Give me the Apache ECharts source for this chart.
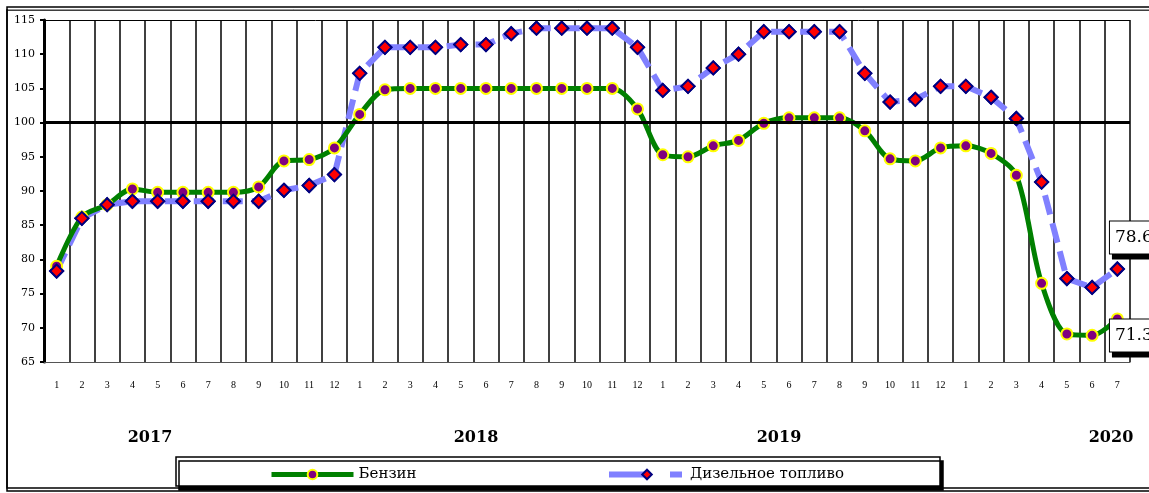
<!DOCTYPE html>
<html>
<head>
<meta charset="utf-8">
<script src="https://cdn.jsdelivr.net/npm/echarts@6/dist/echarts.min.js"></script>
<style>
html,body{margin:0;padding:0;background:#fff;}
#chart{width:1149px;height:493px;}
</style>
</head>
<body>
<div id="chart"></div>
<script>
const months = ['1','2','3','4','5','6','7','8','9','10','11','12',
  '1','2','3','4','5','6','7','8','9','10','11','12',
  '1','2','3','4','5','6','7','8','9','10','11','12',
  '1','2','3','4','5','6','7'];
const years = ['2017','2018','2019','2020'];
const seriesNames = ['Бензин', 'Дизельное топливо'];
const benzin = [79.0, 86.2, 88.0, 90.3, 89.8, 89.8, 89.8, 89.8, 90.6, 94.4, 94.6, 96.3,
  101.2, 104.8, 105.0, 105.0, 105.0, 105.0, 105.0, 105.0, 105.0, 105.0, 105.0, 102.0,
  95.3, 95.0, 96.6, 97.4, 99.9, 100.7, 100.7, 100.7, 98.8, 94.7, 94.4, 96.3,
  96.6, 95.5, 92.3, 76.5, 69.1, 68.9, 71.3];
const diesel = [78.3, 86.0, 88.0, 88.5, 88.5, 88.5, 88.5, 88.5, 88.5, 90.1, 90.8, 92.4,
  107.2, 111.0, 111.0, 111.0, 111.4, 111.4, 113.0, 113.8, 113.8, 113.8, 113.8, 111.0,
  104.7, 105.3, 108.0, 110.0, 113.3, 113.3, 113.3, 113.3, 107.2, 103.0, 103.4, 105.3,
  105.3, 103.7, 100.6, 91.3, 77.2, 75.9, 78.6];
const yMin = 65, yMax = 115, yStep = 5;
const refLevel = 100;

const serif = 'DejaVu Serif';
const last = benzin.length - 1;

const boxLabel = {
  show: true,
  formatter: p => p.value.toFixed(1),
  fontFamily: serif,
  fontSize: 17,
  color: '#000',
  backgroundColor: '#fff',
  borderColor: '#000',
  borderWidth: 1,
  padding: [8, 6, 7, 5],
  shadowColor: '#000',
  shadowBlur: 0,
  shadowOffsetX: 3,
  shadowOffsetY: 5
};

const chart = echarts.init(document.getElementById('chart'), null, {renderer: 'canvas'});
const yearX = [150, 476, 779, 1111];

chart.setOption({
  animation: false,
  backgroundColor: '#fff',
  grid: {left: 44, right: 19, top: 20, bottom: 131, containLabel: false},
  xAxis: {
    type: 'category',
    data: months,
    boundaryGap: true,
    axisLine: {show: true, lineStyle: {color: '#555', width: 1.2}},
    axisTick: {show: false},
    axisLabel: {interval: 0, margin: 18, fontFamily: 'Liberation Serif', fontSize: 10, color: '#000'},
    splitLine: {show: true, interval: 0, lineStyle: {color: '#000', width: 1.5}}
  },
  yAxis: {
    type: 'value',
    min: yMin, max: yMax, interval: yStep,
    axisLine: {show: true, lineStyle: {color: '#000', width: 3}},
    axisTick: {show: true, length: 4, lineStyle: {color: '#000', width: 2}},
    axisLabel: {margin: 9, fontFamily: serif, fontSize: 11, color: '#000'},
    splitLine: {show: false}
  },
  legend: [
    {
      data: [seriesNames[0]], left: 264, top: 462, itemWidth: 82, itemHeight: 12, itemGap: 0,
      lineStyle: {width: 5},
      textStyle: {fontFamily: serif, fontSize: 15, color: '#000'}, z: 10
    },
    {
      data: [seriesNames[1]], left: 601, top: 462, itemWidth: 76, itemHeight: 12, itemGap: 0,
      lineStyle: {type: [37, 24, 12, 200], width: 6},
      textStyle: {fontFamily: serif, fontSize: 15, color: '#000'}, z: 10
    }
  ],
  graphic: [
    {type: 'rect', z: -10, silent: true, shape: {x: 7, y: 7, width: 1220, height: 481},
      style: {fill: 'none', stroke: '#000', lineWidth: 1.5, shadowColor: '#000', shadowOffsetX: 0, shadowOffsetY: 3}},
    {type: 'line', z: -10, silent: true, shape: {x1: 8, y1: 9.5, x2: 1149, y2: 9.5}, style: {stroke: '#999', lineWidth: 1}},
    {type: 'rect', z: 1, silent: true, shape: {x: 176, y: 457, width: 764, height: 29},
      style: {fill: '#fff', stroke: '#000', lineWidth: 1.5, shadowColor: '#000', shadowOffsetX: 3, shadowOffsetY: 4}},
    ...years.map((y, i) => ({
      type: 'text', z: 5, silent: true, x: yearX[i], y: 438,
      style: {text: y, fontFamily: serif, fontWeight: 'bold', fontSize: 16, fill: '#000', align: 'center', verticalAlign: 'middle'}
    }))
  ],
  series: [
    {
      name: seriesNames[1],
      type: 'line',
      data: diesel,
      z: 2,
      symbol: 'diamond',
      symbolSize: 13,
      showSymbol: true,
      lineStyle: {color: '#8080ff', width: 6, type: [20, 9], cap: 'butt'},
      itemStyle: {color: '#ff0000', borderColor: '#000080', borderWidth: 2},
      emphasis: {disabled: true}
    },
    {
      name: seriesNames[0],
      type: 'line',
      data: benzin.map((v, i) => i === last ? {value: v, label: Object.assign({}, boxLabel, {position: 'bottom', distance: 0, offset: [17, -6]})} : v),
      z: 3,
      smooth: 0.3,
      symbol: 'circle',
      symbolSize: 11,
      lineStyle: {color: '#008000', width: 5},
      itemStyle: {color: '#800080', borderColor: '#ffff00', borderWidth: 2},
      emphasis: {disabled: true},
      markLine: {
        silent: true, symbol: 'none', animation: false,
        label: {show: false},
        data: [
          {yAxis: refLevel, lineStyle: {color: '#000', width: 3, type: 'solid'}},
          {yAxis: yMax, lineStyle: {color: '#000', width: 1, type: 'solid'}}
        ]
      }
    },
    {
      name: 'diesel-markers',
      type: 'line',
      data: diesel.map((v, i) => i === last ? {value: v, label: Object.assign({}, boxLabel, {position: 'top', distance: 8, offset: [17, 0]})} : v),
      z: 4,
      symbol: 'diamond',
      symbolSize: 13,
      lineStyle: {opacity: 0},
      itemStyle: {color: '#ff0000', borderColor: '#000080', borderWidth: 2},
      emphasis: {disabled: true}
    }
  ]
});
</script>
</body>
</html>
